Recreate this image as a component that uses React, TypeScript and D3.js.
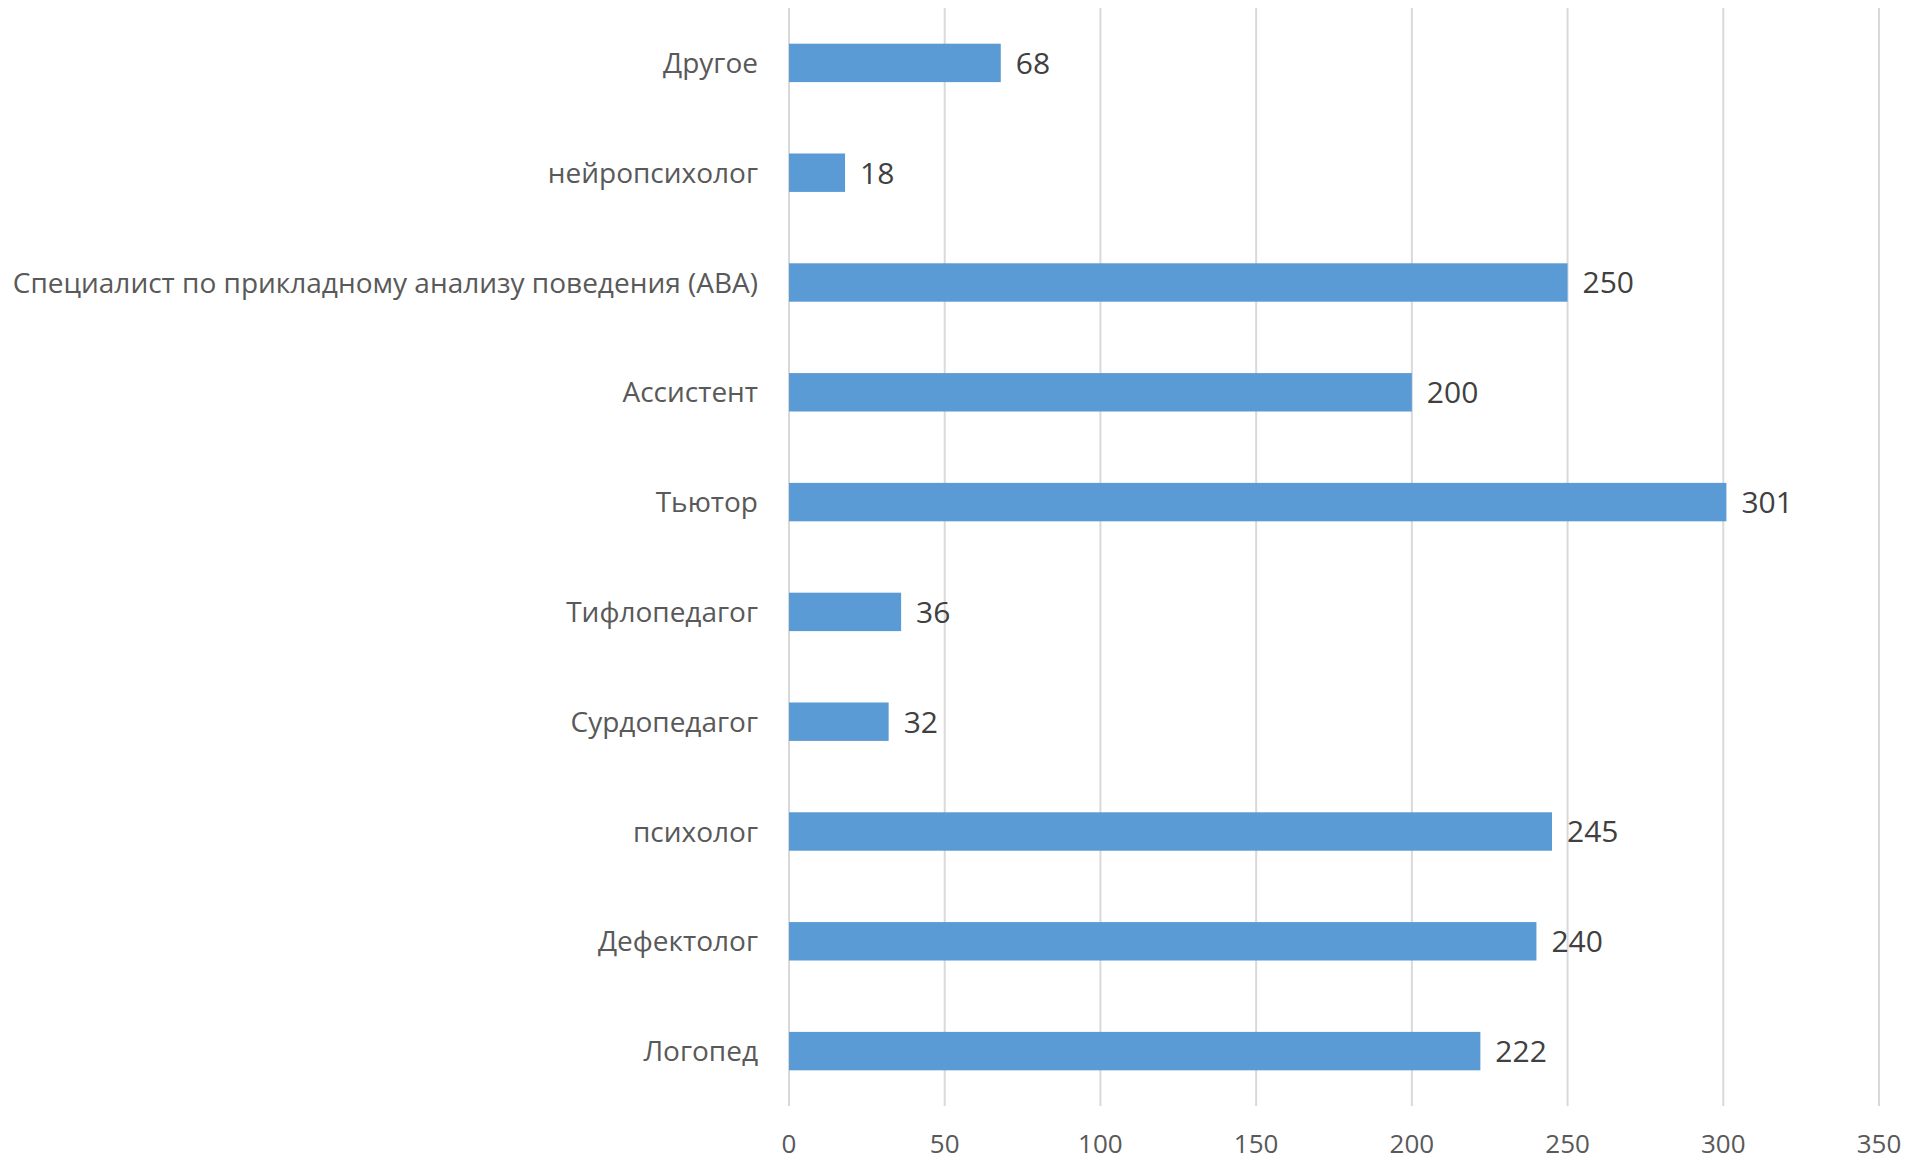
import React from "react";
import * as d3 from "d3";

const categories = [
  "Другое",
  "нейропсихолог",
  "Специалист по прикладному анализу поведения (АВА)",
  "Ассистент",
  "Тьютор",
  "Тифлопедагог",
  "Сурдопедагог",
  "психолог",
  "Дефектолог",
  "Логопед",
];
const values = [68, 18, 250, 200, 301, 36, 32, 245, 240, 222];
const xTicks = [0, 50, 100, 150, 200, 250, 300, 350];

const W = 1931;
const H = 1162;
const left = 789;
const right = 1879;
const top = 8;
const bottom = 1106;
const FONT = "'Open Sans', 'Noto Sans', sans-serif";

export default function App() {
  const x = d3.scaleLinear().domain([0, 350]).range([left, right]);
  const y = d3.scaleBand<string>().domain(categories).range([top, bottom]).paddingInner(0.65).paddingOuter(0.325);

  return (
    <svg width={W} height={H} style={{ position: "absolute", left: 0, top: 0 }}>
      <rect width={W} height={H} fill="#fff" />
      {xTicks.map((t) => (
        <line key={t} x1={x(t)} x2={x(t)} y1={top} y2={bottom} stroke="#d9d9d9" strokeWidth={2} />
      ))}
      {categories.map((c, i) => (
        <rect key={c} x={x(0)} y={y(c)!} width={x(values[i]) - x(0)} height={y.bandwidth()} fill="#5b9bd5" />
      ))}
      {categories.map((c, i) => (
        <text
          key={"v" + c}
          x={x(values[i]) + 15}
          y={y(c)! + y.bandwidth() / 2}
          dy="0.36em"
          fontFamily={FONT}
          fontSize={30}
          fill="#404040"
        >
          {values[i]}
        </text>
      ))}
      {categories.map((c) => (
        <text
          key={"c" + c}
          x={758}
          y={y(c)! + y.bandwidth() / 2}
          dy="0.36em"
          textAnchor="end"
          fontFamily={FONT}
          fontSize={28}
          fill="#595959"
        >
          {c}
        </text>
      ))}
      {xTicks.map((t) => (
        <text
          key={"t" + t}
          x={x(t)}
          y={1153}
          textAnchor="middle"
          fontFamily={FONT}
          fontSize={26}
          fill="#595959"
        >
          {t}
        </text>
      ))}
    </svg>
  );
}
